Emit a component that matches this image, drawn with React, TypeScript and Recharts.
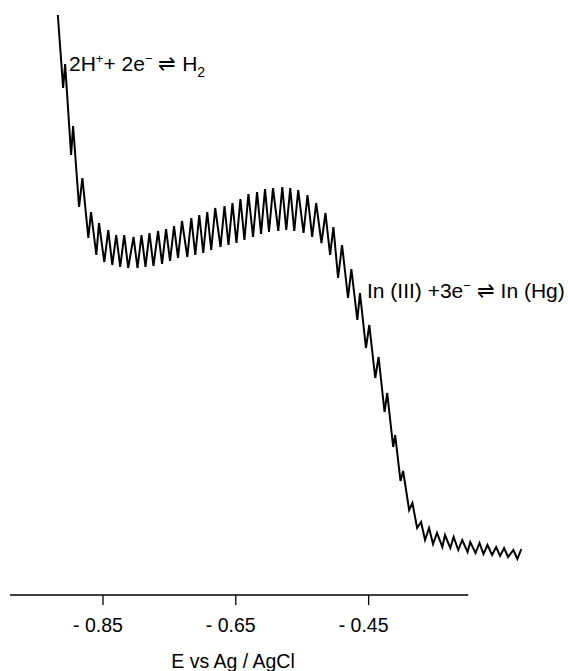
import React from "react";
import { LineChart, Line, XAxis, YAxis, ReferenceLine, Customized } from "recharts";

// Potential (V vs Ag/AgCl) – alternating trough / peak of each mercury drop
const potential = [
  -0.918, -0.910, -0.907, -0.898, -0.895, -0.886, -0.881, -0.872, -0.868, -0.860,
  -0.856, -0.848, -0.842, -0.836, -0.830, -0.824, -0.818, -0.812, -0.804, -0.798,
  -0.792, -0.786, -0.780, -0.774, -0.767, -0.761, -0.755, -0.749, -0.743, -0.737,
  -0.731, -0.723, -0.717, -0.711, -0.705, -0.699, -0.693, -0.687, -0.681, -0.673,
  -0.667, -0.661, -0.655, -0.649, -0.643, -0.637, -0.631, -0.624, -0.618, -0.612,
  -0.606, -0.600, -0.594, -0.586, -0.580, -0.574, -0.568, -0.562, -0.556, -0.548,
  -0.542, -0.535, -0.529, -0.521, -0.515, -0.508, -0.503, -0.496, -0.490, -0.481,
  -0.476, -0.467, -0.463, -0.454, -0.449, -0.440, -0.435, -0.426, -0.422, -0.413,
  -0.410, -0.402, -0.398, -0.389, -0.384, -0.377, -0.371, -0.365, -0.359, -0.353,
  -0.347, -0.339, -0.335, -0.327, -0.322, -0.315, -0.309, -0.301, -0.297, -0.289,
  -0.283, -0.277, -0.271, -0.264, -0.258, -0.252, -0.246, -0.240, -0.232, -0.226,
  -0.220,
];

// Current (arbitrary units)
const current = [
  58.0, 50.7, 53.1, 44.0, 46.9, 38.8, 41.7, 35.7, 38.3, 34.0,
  37.2, 33.3, 36.5, 33.0, 36.0, 32.8, 36.0, 32.7, 35.8, 32.7,
  36.0, 32.8, 36.2, 32.9, 36.4, 33.1, 36.6, 33.4, 36.9, 33.7,
  37.4, 33.8, 37.7, 34.0, 38.0, 34.2, 38.3, 34.5, 38.7, 34.8,
  38.9, 35.0, 39.2, 35.2, 39.6, 35.5, 40.1, 35.8, 40.3, 36.1,
  40.6, 36.3, 40.7, 36.4, 40.8, 36.5, 40.7, 36.4, 40.5, 36.2,
  40.0, 35.8, 39.2, 35.2, 38.2, 34.0, 36.8, 31.7, 35.0, 29.7,
  32.6, 27.5, 30.2, 24.7, 27.0, 21.7, 23.8, 18.3, 20.2, 14.8,
  16.0, 11.4, 12.4, 8.5, 9.2, 6.7, 7.3, 5.5, 6.7, 5.1,
  6.2, 4.8, 6.0, 4.7, 5.8, 4.5, 5.5, 4.3, 5.3, 4.2,
  5.2, 4.1, 5.0, 4.0, 4.8, 3.9, 4.7, 3.8, 4.5, 3.6,
  4.6,
];

const xTicks = [-0.85, -0.65, -0.45];
const xTickLabels = ["- 0.85", "- 0.65", "- 0.45"];
const axisStart = -0.99;
const axisEnd = -0.30;

const data = potential.map((e, i) => ({ e, i: current[i] }));

const FONT = '"Liberation Sans", Arial, Helvetica, sans-serif';

const Tick = (props: any) => {
  const { x, payload } = props;
  const idx = xTicks.indexOf(payload.value);
  return (
    <text x={x - 5} y={632} textAnchor="middle" fontFamily={FONT} fontSize={19.5} fill="#000">
      {idx >= 0 ? xTickLabels[idx] : payload.value}
    </text>
  );
};

const Annotations = () => (
  <g fontFamily={FONT} fill="#000">
    <text x={69} y={71} fontSize={21}>
      2H<tspan dy={-8} fontSize={13}>+</tspan>
      <tspan dy={8}>+ 2e</tspan>
      <tspan dy={-8} fontSize={13}>−</tspan>
      <tspan dy={8}> ⇌ H</tspan>
      <tspan dy={6} fontSize={14}>2</tspan>
    </text>
    <text x={367} y={298} fontSize={21}>
      In (III) +3e<tspan dy={-8} fontSize={13}>−</tspan>
      <tspan dy={8}> ⇌ In (Hg)</tspan>
    </text>
    <text x={233} y={668} textAnchor="middle" fontSize={19.5}>
      E vs Ag / AgCl
    </text>
  </g>
);

export default function App() {
  return (
    <div style={{ position: "absolute", left: 0, top: 0, background: "#fff" }}>
      <LineChart
        width={568}
        height={671}
        data={data}
        margin={{ top: 0, right: 40, bottom: 0, left: 10 }}
      >
        <XAxis
          dataKey="e"
          type="number"
          domain={[-0.99, -0.21]}
          allowDataOverflow
          ticks={xTicks}
          tick={<Tick />}
          tickSize={10}
          tickLine={{ stroke: "#000", strokeWidth: 1.3 }}
          axisLine={false}
          height={76}
        />
        <YAxis hide type="number" domain={[0, 59.5]} allowDataOverflow />
        <ReferenceLine
          segment={[
            { x: axisStart, y: 0 },
            { x: axisEnd, y: 0 },
          ]}
          stroke="#000"
          strokeWidth={1.3}
          ifOverflow="visible"
        />
        <Line
          type="linear"
          dataKey="i"
          stroke="#000"
          strokeWidth={2}
          dot={false}
          isAnimationActive={false}
        />
        <Customized component={Annotations} />
      </LineChart>
    </div>
  );
}
